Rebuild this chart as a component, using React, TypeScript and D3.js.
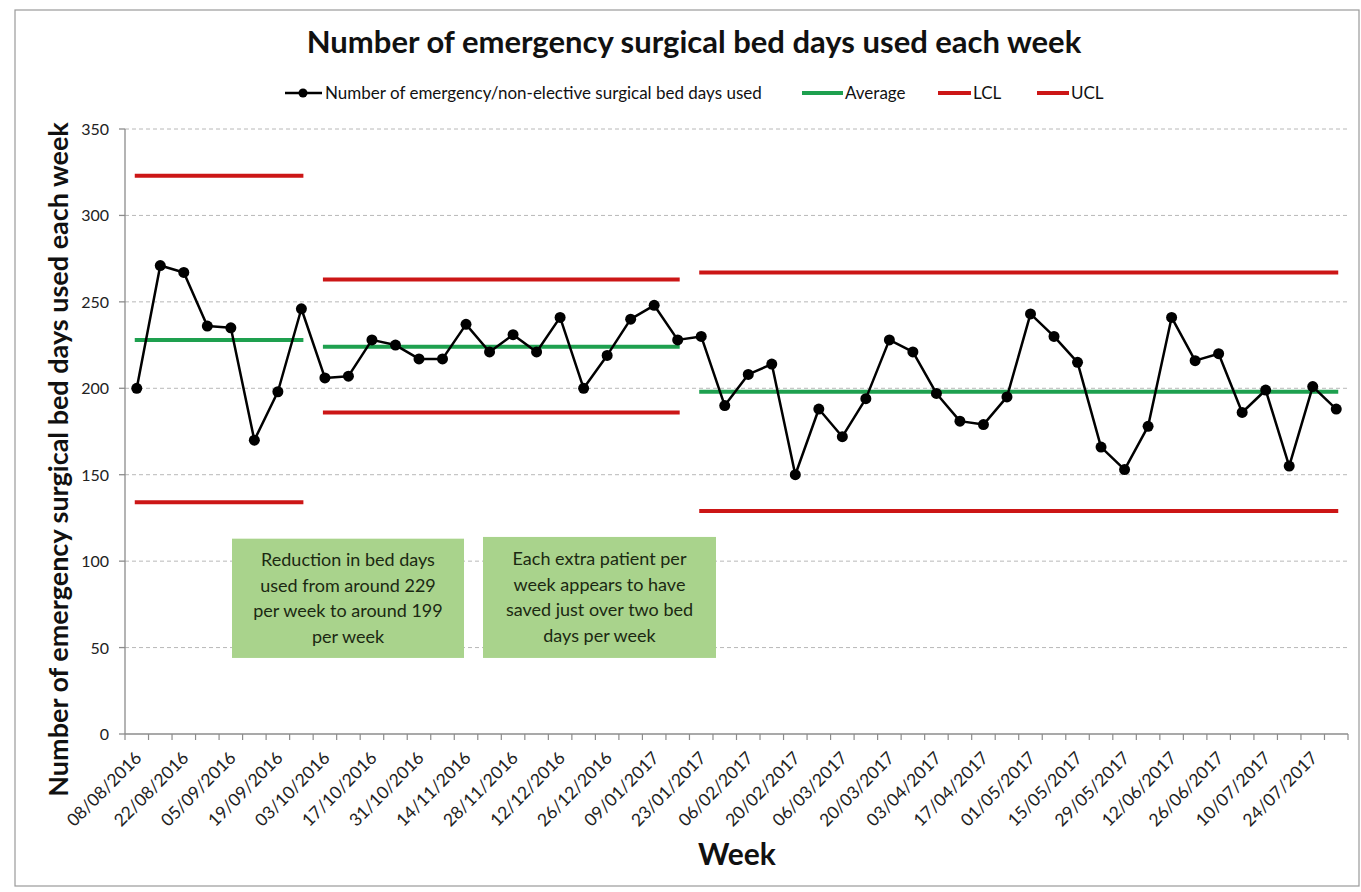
import * as d3 from 'd3';

const weeks = [
  '08/08/2016', '15/08/2016', '22/08/2016', '29/08/2016', '05/09/2016', '12/09/2016', '19/09/2016', '26/09/2016',
  '03/10/2016', '10/10/2016', '17/10/2016', '24/10/2016', '31/10/2016', '07/11/2016', '14/11/2016', '21/11/2016',
  '28/11/2016', '05/12/2016', '12/12/2016', '19/12/2016', '26/12/2016', '02/01/2017', '09/01/2017', '16/01/2017',
  '23/01/2017', '30/01/2017', '06/02/2017', '13/02/2017', '20/02/2017', '27/02/2017', '06/03/2017', '13/03/2017',
  '20/03/2017', '27/03/2017', '03/04/2017', '10/04/2017', '17/04/2017', '24/04/2017', '01/05/2017', '08/05/2017',
  '15/05/2017', '22/05/2017', '29/05/2017', '05/06/2017', '12/06/2017', '19/06/2017', '26/06/2017', '03/07/2017',
  '10/07/2017', '17/07/2017', '24/07/2017', '31/07/2017',
];

const bedDays = [
  200, 271, 267, 236, 235, 170, 198, 246,
  206, 207, 228, 225, 217, 217, 237, 221, 231, 221, 241, 200, 219, 240, 248, 228,
  230, 190, 208, 214, 150, 188, 172, 194, 228, 221, 197, 181, 179, 195, 243, 230,
  215, 166, 153, 178, 241, 216, 220, 186, 199, 155, 201, 188,
];

// control chart phases (index of first / last week)
const phaseStart = [0, 8, 24];
const phaseEnd = [7, 23, 51];
const phaseAverage = [228, 224, 198];
const phaseUCL = [323, 263, 267];
const phaseLCL = [134, 186, 129];

const yTicks = [0, 50, 100, 150, 200, 250, 300, 350];

const noteLeft = ['Reduction in bed days', 'used from around  229', 'per week to  around 199', 'per week'];
const noteRight = ['Each extra patient per', 'week appears to have', 'saved just over two bed', 'days per week'];

const title = 'Number of emergency surgical bed days used each week';
const yTitle = 'Number of emergency surgical bed days used each week';
const xTitle = 'Week';
const legendLabels = ['Number of emergency/non-elective surgical bed days used', 'Average', 'LCL', 'UCL'];

const FONT = 'Lato, "Open Sans", sans-serif';
const GREEN = '#1ea04f';
const RED = '#cc1616';
const BOX = '#a9d38c';

export default function App() {
  const width = 1361;
  const height = 892;
  const margin = { top: 129, right: 13, bottom: 158, left: 125 };

  const x = d3.scaleBand().domain(weeks).range([margin.left, width - margin.right]);
  const y = d3.scaleLinear().domain([0, 350]).range([height - margin.bottom, margin.top]);
  const cx = (i) => x(weeks[i]) + x.bandwidth() / 2;

  const line = d3
    .line()
    .x((d, i) => cx(i))
    .y((d) => y(d));

  const boundaries = d3.range(weeks.length + 1).map((i) => margin.left + i * x.bandwidth());

  const note = (lines, x0, x1, v0, v1) => {
    const top = y(v0);
    const bottom = y(v1);
    const mid = (x0 + x1) / 2;
    const lh = 25.5;
    const startY = (top + bottom) / 2 - (lh * (lines.length - 1)) / 2 + 6;
    return (
      <g>
        <rect x={x0} y={top} width={x1 - x0} height={bottom - top} fill={BOX} />
        {lines.map((t, i) => (
          <text key={i} x={mid} y={startY + i * lh} textAnchor="middle" fontSize={18} fill="#1b2912" fontFamily={FONT}>
            {t}
          </text>
        ))}
      </g>
    );
  };

  return (
    <svg width={width} height={height} style={{ position: 'absolute', left: 0, top: 0 }}>
      <rect x={0} y={0} width={width} height={height} fill="white" />
      <rect x={15} y={10} width={width - 17} height={height - 16} fill="none" stroke="#9a9a9a" strokeWidth={1.2} />

      <text x={694} y={53} textAnchor="middle" fontSize={31} fontWeight="bold" fontFamily={FONT} fill="#111">
        {title}
      </text>

      {/* legend */}
      <g fontFamily={FONT} fontSize={17} fill="#111">
        <line x1={285} x2={322} y1={93} y2={93} stroke="#000" strokeWidth={2.5} />
        <circle cx={303} cy={93} r={4.5} fill="#000" />
        <text x={325} y={99}>{legendLabels[0]}</text>
        <line x1={802} x2={843} y1={93} y2={93} stroke={GREEN} strokeWidth={4} />
        <text x={845} y={99}>{legendLabels[1]}</text>
        <line x1={938} x2={971} y1={93} y2={93} stroke={RED} strokeWidth={4} />
        <text x={973} y={99}>{legendLabels[2]}</text>
        <line x1={1037} x2={1069} y1={93} y2={93} stroke={RED} strokeWidth={4} />
        <text x={1071} y={99}>{legendLabels[3]}</text>
      </g>

      {/* gridlines */}
      {yTicks.filter((t) => t > 0).map((t) => (
        <line key={t} x1={margin.left} x2={width - margin.right} y1={y(t)} y2={y(t)} stroke="#b8b8b8" strokeDasharray="4,3" strokeWidth={1} />
      ))}

      {/* y axis */}
      <line x1={margin.left} x2={margin.left} y1={y(350)} y2={y(0)} stroke="#8c8c8c" strokeWidth={1.3} />
      {yTicks.map((t) => (
        <g key={t}>
          <line x1={margin.left - 6} x2={margin.left} y1={y(t)} y2={y(t)} stroke="#8c8c8c" strokeWidth={1.3} />
          <text x={margin.left - 16} y={y(t) + 6} textAnchor="end" fontSize={16} fontFamily={FONT} fill="#222">
            {t}
          </text>
        </g>
      ))}

      {/* x axis */}
      <line x1={margin.left} x2={width - margin.right} y1={y(0)} y2={y(0)} stroke="#8c8c8c" strokeWidth={1.3} />
      {boundaries.map((bx, i) => (
        <line key={i} x1={bx} x2={bx} y1={y(0)} y2={y(0) + 6} stroke="#8c8c8c" strokeWidth={1.2} />
      ))}
      {weeks.map((w, i) =>
        i % 2 === 0 ? (
          <text
            key={w}
            transform={`translate(${cx(i) + 6},${y(0) + 25}) rotate(-45)`}
            textAnchor="end"
            fontSize={17.5}
            fontFamily={FONT}
            fill="#222"
          >
            {w}
          </text>
        ) : null
      )}

      <text x={737} y={865} textAnchor="middle" fontSize={30} fontWeight="bold" fontFamily={FONT} fill="#111">
        {xTitle}
      </text>
      <text
        transform={`translate(68,${(y(0) + y(350)) / 2 + 28}) rotate(-90)`}
        textAnchor="middle"
        fontSize={27}
        fontWeight="bold"
        fontFamily={FONT}
        fill="#111"
      >
        {yTitle}
      </text>

      {/* annotations */}
      {note(noteLeft, 232, 464, 113, 44)}
      {note(noteRight, 483, 716, 114, 44)}

      {/* control limits */}
      {phaseStart.map((s, k) => (
        <g key={k}>
          <line x1={cx(s) - 2} x2={cx(phaseEnd[k]) + 2} y1={y(phaseUCL[k])} y2={y(phaseUCL[k])} stroke={RED} strokeWidth={4} />
          <line x1={cx(s) - 2} x2={cx(phaseEnd[k]) + 2} y1={y(phaseLCL[k])} y2={y(phaseLCL[k])} stroke={RED} strokeWidth={4} />
          <line x1={cx(s) - 2} x2={cx(phaseEnd[k]) + 2} y1={y(phaseAverage[k])} y2={y(phaseAverage[k])} stroke={GREEN} strokeWidth={4} />
        </g>
      ))}

      {/* series */}
      <path d={line(bedDays)} fill="none" stroke="#000" strokeWidth={2.5} strokeLinejoin="round" />
      {bedDays.map((v, i) => (
        <circle key={i} cx={cx(i)} cy={y(v)} r={5.5} fill="#000" />
      ))}
    </svg>
  );
}
